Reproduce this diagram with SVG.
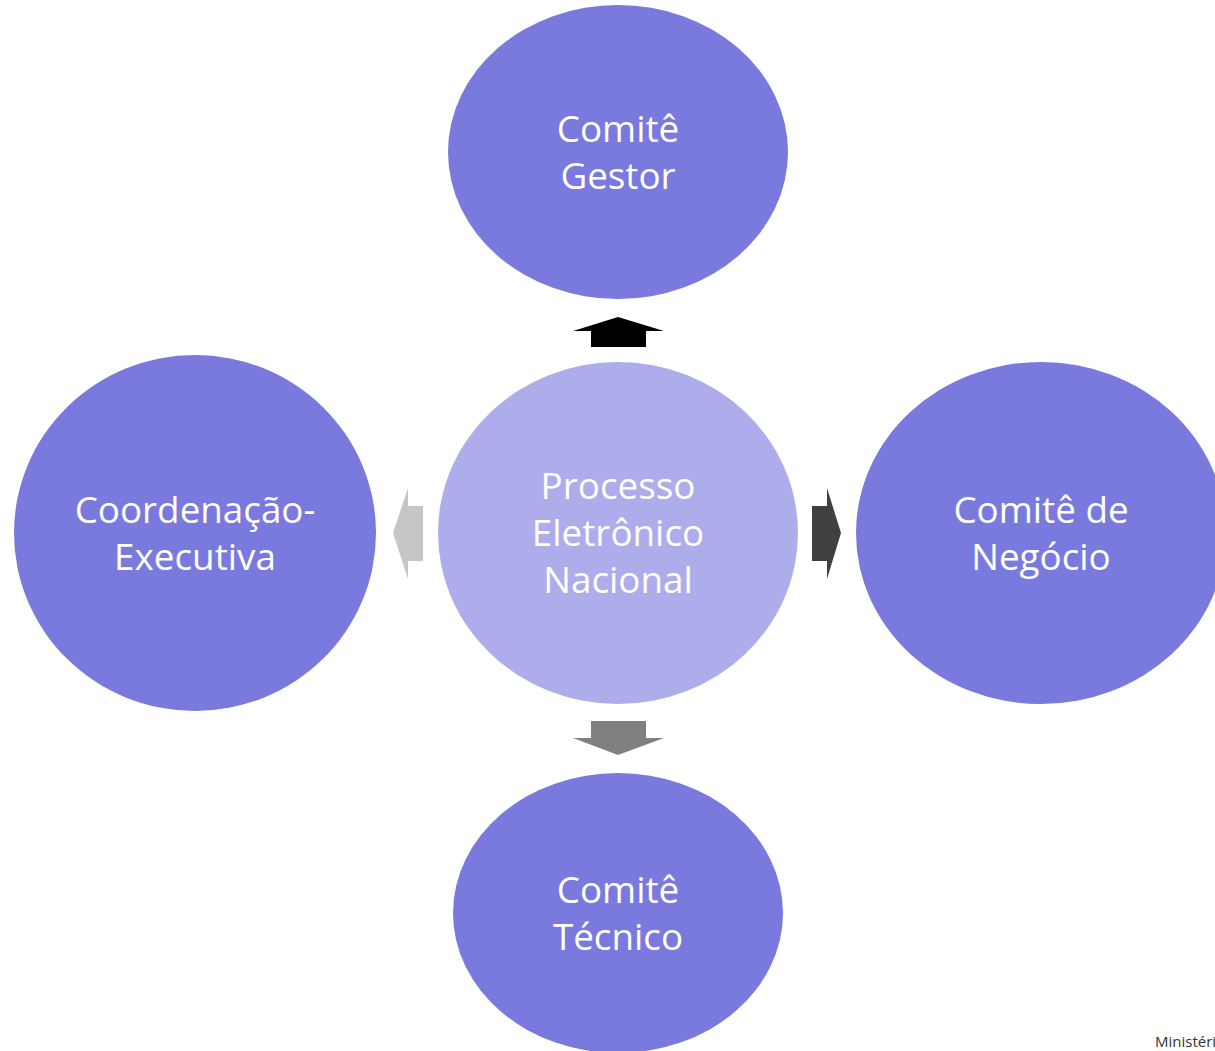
<svg xmlns="http://www.w3.org/2000/svg" width="1215" height="1051" viewBox="0 0 1215 1051">
<style>
.outer{fill:#7979DE}
.center{fill:#ADADEB}
.lbl{font-family:"Open Sans","Noto Sans",sans-serif;font-size:36.8px;fill:#FFFFFF;text-anchor:middle}
.foot{font-family:"Open Sans","Noto Sans",sans-serif;font-size:15px;fill:#333333}
</style>
<rect width="1215" height="1051" fill="#FFFFFF"/>
<g id="connectors">
<polygon points="591,347 646,347 646,331 664,331 618,317 573,331 591,331" fill="#000000"/>
<polygon points="812,506 827,506 827,488 841,533 827,579 827,561 812,561" fill="#404040"/>
<polygon points="423,506 408,506 408,488 393,533 408,579 408,561 423,561" fill="#C6C6C6"/>
<polygon points="591,721 646,721 646,738 664,738 618,755 573,738 591,738" fill="#808080"/>
</g>
<g id="node-gestor">
<ellipse class="outer" cx="618" cy="152" rx="170" ry="147"/>
<text class="lbl" x="618" y="142">Comitê</text>
<text class="lbl" x="618" y="189">Gestor</text>
</g>
<g id="node-coordenacao">
<ellipse class="outer" cx="195" cy="533" rx="181" ry="178"/>
<text class="lbl" x="195" y="523">Coordenação-</text>
<text class="lbl" x="195" y="570">Executiva</text>
</g>
<g id="node-pen">
<ellipse class="center" cx="618" cy="533" rx="180" ry="171"/>
<text class="lbl" x="618" y="499">Processo</text>
<text class="lbl" x="618" y="546">Eletrônico</text>
<text class="lbl" x="618" y="593">Nacional</text>
</g>
<g id="node-negocio">
<ellipse class="outer" cx="1041" cy="533" rx="185" ry="171"/>
<text class="lbl" x="1041" y="523">Comitê de</text>
<text class="lbl" x="1041" y="570">Negócio</text>
</g>
<g id="node-tecnico">
<ellipse class="outer" cx="618" cy="913" rx="165" ry="140"/>
<text class="lbl" x="618" y="903">Comitê</text>
<text class="lbl" x="618" y="950">Técnico</text>
</g>
<text class="foot" x="1155" y="1047">Ministéri</text>
</svg>
